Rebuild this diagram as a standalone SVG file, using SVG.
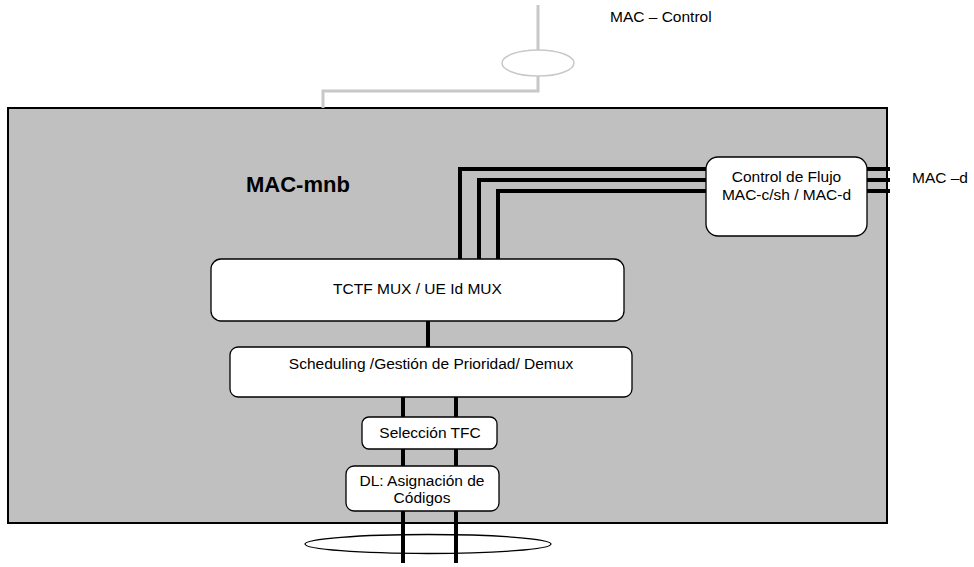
<svg xmlns="http://www.w3.org/2000/svg" width="974" height="567" viewBox="0 0 974 567">
<style>
text{font-family:"Liberation Sans",Arial,sans-serif;font-size:15.5px;fill:#000}
.box{fill:#fff;stroke:#000;stroke-width:1.3}
.bus{fill:none;stroke:#000;stroke-width:4}
.ctl{fill:none;stroke:#c8c8c8;stroke-width:3}
</style>
<rect width="974" height="567" fill="#fff"/>
<g id="mac-mnb">
<rect x="8" y="108" width="879" height="415" fill="#c0c0c0" stroke="#000" stroke-width="2"/>
<text x="246" y="192" style="font-size:22px;font-weight:bold">MAC-mnb</text>
</g>
<g id="connectors">
<path class="ctl" d="M538 5V50M538 76V91H323V108"/>
<ellipse cx="538" cy="63" rx="36" ry="13" fill="#fff" stroke="#c8c8c8" stroke-width="1.5"/>
<path class="bus" d="M460 260V169H706M479 260V180H706M498 260V191H706"/>
<path class="bus" d="M867 169H890M867 180H890M867 191H890"/>
<path class="bus" d="M428 321V347"/>
<ellipse cx="428" cy="544" rx="123" ry="9.5" fill="#fff" stroke="#000" stroke-width="1.3"/>
<path class="bus" d="M403 397V563M456 397V563"/>
</g>
<g id="mac-control-label"><text x="610" y="22">MAC – Control</text></g>
<g id="mac-d-label"><text x="912" y="183">MAC –d</text></g>
<g id="control-flujo">
<rect class="box" x="706" y="157" width="161" height="79" rx="12"/>
<text x="786.5" y="182" text-anchor="middle">Control de Flujo</text>
<text x="786.5" y="200" text-anchor="middle">MAC-c/sh / MAC-d</text>
</g>
<g id="tctf-mux">
<rect class="box" x="211" y="259" width="413" height="62" rx="10"/>
<text x="417.5" y="294" text-anchor="middle">TCTF MUX / UE Id MUX</text>
</g>
<g id="scheduling">
<rect class="box" x="230" y="347" width="402" height="50" rx="8"/>
<text x="431" y="369" text-anchor="middle">Scheduling /Gestión de Prioridad/ Demux</text>
</g>
<g id="seleccion-tfc">
<rect class="box" x="362" y="417" width="135" height="32" rx="7"/>
<text x="430" y="438" text-anchor="middle">Selección TFC</text>
</g>
<g id="dl-asignacion">
<rect class="box" x="346" y="466" width="153" height="45" rx="8"/>
<text x="422" y="486" text-anchor="middle">DL: Asignación de</text>
<text x="422" y="503" text-anchor="middle">Códigos</text>
</g>
</svg>
